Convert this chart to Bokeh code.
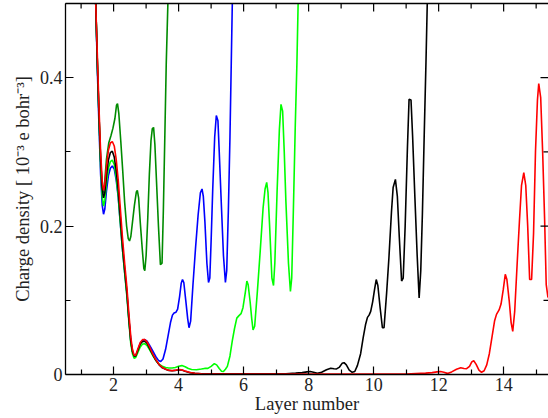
import math
from bokeh.plotting import figure
from bokeh.models import LinearAxis, FixedTicker, Range1d
from bokeh.embed import file_html
from bokeh.resources import INLINE

# ---------------- data ----------------
x_ticks = [2, 4, 6, 8, 10, 12, 14]
x_minor = [1, 3, 5, 7, 9, 11, 13, 15]
y_ticks = [0, 0.2, 0.4]
y_minor = [0.1, 0.3]
X_MIN, X_MAX = 0.52, 15.38
Y_MIN, Y_MAX = 0.0, 0.5

darkgreen_x = [1.35, 1.45, 1.5, 1.55, 1.6, 1.65, 1.69, 1.73, 1.78, 1.85, 1.92, 1.98, 2.04, 2.09, 2.12,
               2.16, 2.22, 2.28, 2.34, 2.4, 2.45, 2.49, 2.53, 2.58, 2.64, 2.7, 2.73, 2.77, 2.82, 2.88,
               2.93, 2.96, 3.0, 3.05, 3.1, 3.15, 3.19, 3.23, 3.27, 3.32, 3.38, 3.44, 3.49, 3.53, 3.58,
               3.62, 3.67, 3.72]
darkgreen_y = [0.75, 0.5, 0.42, 0.35, 0.29, 0.252, 0.245, 0.262, 0.29, 0.312, 0.322, 0.332, 0.345, 0.363,
               0.365, 0.352, 0.315, 0.275, 0.232, 0.2, 0.183, 0.18, 0.186, 0.205, 0.228, 0.246, 0.248,
               0.238, 0.205, 0.17, 0.143, 0.14, 0.16, 0.21, 0.27, 0.315, 0.331, 0.333, 0.31, 0.26, 0.2,
               0.148, 0.15, 0.22, 0.33, 0.42, 0.5, 0.75]

blue_x = [1.35, 1.45, 1.5, 1.55, 1.6, 1.65, 1.69, 1.73, 1.78, 1.84, 1.9, 1.96, 2.02, 2.08, 2.14, 2.2,
          2.27, 2.34, 2.41, 2.47, 2.53, 2.58, 2.63, 2.68, 2.75, 2.82, 2.89, 2.96, 3.03, 3.1, 3.2, 3.3,
          3.38, 3.45, 3.52, 3.6, 3.68, 3.75, 3.81, 3.86, 3.92, 3.97, 4.03, 4.08, 4.12, 4.16, 4.22,
          4.28, 4.32, 4.37, 4.44, 4.52, 4.6, 4.67, 4.72, 4.76, 4.81, 4.87, 4.92, 4.96, 5.0, 5.05,
          5.11, 5.16, 5.21, 5.25, 5.3, 5.38, 5.44, 5.48, 5.53, 5.58, 5.62, 5.66, 5.72]
blue_y = [0.75, 0.5, 0.41, 0.335, 0.27, 0.228, 0.216, 0.223, 0.247, 0.268, 0.278, 0.281, 0.277, 0.262,
          0.24, 0.207, 0.17, 0.138, 0.107, 0.074, 0.044, 0.031, 0.025, 0.025, 0.033, 0.042, 0.046,
          0.047, 0.045, 0.04, 0.032, 0.024, 0.019, 0.0176, 0.021, 0.034, 0.053, 0.07, 0.08, 0.083,
          0.084, 0.088, 0.105, 0.123, 0.128, 0.124, 0.1, 0.075, 0.063, 0.072, 0.12, 0.17, 0.215,
          0.245, 0.25, 0.24, 0.205, 0.15, 0.124, 0.13, 0.18, 0.25, 0.32, 0.349, 0.342, 0.3, 0.245,
          0.16, 0.124, 0.14, 0.22, 0.32, 0.42, 0.52, 0.75]

green_x = [1.35, 1.45, 1.5, 1.55, 1.6, 1.65, 1.69, 1.73, 1.78, 1.84, 1.9, 1.96, 2.02, 2.08, 2.14, 2.2,
           2.27, 2.34, 2.41, 2.47, 2.53, 2.58, 2.63, 2.68, 2.75, 2.82, 2.89, 2.96, 3.03, 3.1, 3.2,
           3.3, 3.4, 3.5, 3.6, 3.7, 3.8, 3.9, 4.0, 4.1, 4.2, 4.3, 4.4, 4.55, 4.7, 4.8, 4.9, 5.0,
           5.1, 5.17, 5.25, 5.32, 5.38, 5.44, 5.5, 5.58, 5.65, 5.72, 5.79, 5.85, 5.92, 5.98, 6.05,
           6.1, 6.14, 6.2, 6.25, 6.29, 6.34, 6.42, 6.51, 6.6, 6.66, 6.71, 6.75, 6.8, 6.87, 6.92,
           6.96, 7.03, 7.1, 7.15, 7.2, 7.25, 7.3, 7.38, 7.44, 7.48, 7.53, 7.59, 7.64, 7.7, 7.75]
green_y = [0.75, 0.5, 0.42, 0.345, 0.28, 0.24, 0.227, 0.235, 0.258, 0.278, 0.287, 0.289, 0.283, 0.266,
           0.242, 0.208, 0.17, 0.137, 0.105, 0.071, 0.041, 0.028, 0.022, 0.023, 0.03, 0.037, 0.041,
           0.0415, 0.039, 0.034, 0.026, 0.019, 0.014, 0.011, 0.0095, 0.0088, 0.0088, 0.0095, 0.011,
           0.012, 0.0105, 0.008, 0.0068, 0.0065, 0.0075, 0.0082, 0.0082, 0.011, 0.0145, 0.013, 0.008,
           0.0045, 0.004, 0.007, 0.011, 0.025, 0.045, 0.062, 0.076, 0.079, 0.082, 0.09, 0.11, 0.126,
           0.121, 0.098, 0.075, 0.06, 0.065, 0.11, 0.166, 0.225, 0.25, 0.259, 0.245, 0.2, 0.13, 0.12,
           0.15, 0.247, 0.33, 0.364, 0.355, 0.3, 0.234, 0.15, 0.112, 0.13, 0.22, 0.337, 0.42, 0.55,
           0.75]

black_x = [1.35, 1.45, 1.5, 1.55, 1.6, 1.65, 1.69, 1.73, 1.78, 1.84, 1.9, 1.96, 2.02, 2.08, 2.14, 2.2,
           2.27, 2.34, 2.41, 2.47, 2.53, 2.58, 2.63, 2.68, 2.75, 2.82, 2.89, 2.96, 3.03, 3.1, 3.2,
           3.3, 3.4, 3.5, 3.6, 3.7, 3.8, 3.9, 4.0, 4.1, 4.2, 4.35, 4.5, 4.7, 5.5, 6.5, 7.3, 7.6,
           7.8, 7.95, 8.05, 8.15, 8.27, 8.4, 8.55, 8.68, 8.78, 8.86, 8.95, 9.03, 9.09, 9.16, 9.25,
           9.34, 9.42, 9.5, 9.6, 9.68, 9.75, 9.81, 9.86, 9.91, 9.97, 10.03, 10.08, 10.13, 10.2,
           10.27, 10.32, 10.4, 10.47, 10.55, 10.6, 10.67, 10.73, 10.79, 10.86, 10.91, 10.97, 11.04,
           11.09, 11.15, 11.2, 11.27, 11.34, 11.4, 11.45, 11.5, 11.56, 11.61, 11.66, 11.72]
black_y = [0.75, 0.5, 0.42, 0.35, 0.29, 0.25, 0.238, 0.245, 0.268, 0.289, 0.299, 0.301, 0.293, 0.275,
           0.25, 0.215, 0.175, 0.142, 0.11, 0.075, 0.045, 0.031, 0.025, 0.025, 0.033, 0.041, 0.0445,
           0.0448, 0.042, 0.036, 0.027, 0.019, 0.013, 0.009, 0.007, 0.0055, 0.005, 0.0055, 0.0065,
           0.006, 0.0045, 0.0025, 0.0015, 0.001, 0.0008, 0.0008, 0.001, 0.0018, 0.0025, 0.0035,
           0.004, 0.003, 0.0015, 0.003, 0.0065, 0.0085, 0.0078, 0.0075, 0.01, 0.015, 0.016, 0.013,
           0.006, 0.003, 0.004, 0.012, 0.028, 0.05, 0.067, 0.077, 0.08, 0.085, 0.098, 0.115, 0.128,
           0.12, 0.09, 0.063, 0.063, 0.11, 0.157, 0.22, 0.252, 0.263, 0.24, 0.185, 0.126, 0.13, 0.2,
           0.306, 0.371, 0.37, 0.32, 0.238, 0.16, 0.103, 0.14, 0.216, 0.33, 0.42, 0.52, 0.75]

red_x = [1.35, 1.45, 1.5, 1.55, 1.6, 1.65, 1.69, 1.73, 1.78, 1.84, 1.9, 1.96, 2.02, 2.08, 2.14, 2.2,
         2.27, 2.34, 2.41, 2.47, 2.53, 2.58, 2.63, 2.68, 2.75, 2.82, 2.89, 2.96, 3.03, 3.1, 3.2, 3.3,
         3.4, 3.5, 3.6, 3.7, 3.8, 3.9, 4.0, 4.1, 4.2, 4.35, 4.5, 4.7, 5.5, 7.0, 9.0, 11.0, 11.6,
         11.8, 11.95, 12.06, 12.16, 12.27, 12.4, 12.55, 12.68, 12.78, 12.86, 12.95, 13.02, 13.08,
         13.15, 13.24, 13.32, 13.4, 13.48, 13.56, 13.64, 13.72, 13.78, 13.86, 13.92, 13.99, 14.05,
         14.1, 14.17, 14.23, 14.28, 14.34, 14.42, 14.49, 14.55, 14.62, 14.68, 14.74, 14.8, 14.86,
         14.92, 14.98, 15.04, 15.08, 15.14, 15.2, 15.26, 15.31, 15.36, 15.42, 15.5]
red_y = [0.75, 0.5, 0.43, 0.36, 0.3, 0.26, 0.248, 0.256, 0.28, 0.302, 0.312, 0.314, 0.308, 0.29, 0.263,
         0.228, 0.186, 0.15, 0.117, 0.082, 0.05, 0.034, 0.026, 0.026, 0.035, 0.043, 0.047, 0.047,
         0.044, 0.038, 0.028, 0.02, 0.0135, 0.0095, 0.0072, 0.0058, 0.0052, 0.0058, 0.0068, 0.0062,
         0.0047, 0.0026, 0.0016, 0.001, 0.0007, 0.0006, 0.0006, 0.0007, 0.0018, 0.0025, 0.0035,
         0.004, 0.003, 0.0015, 0.0035, 0.007, 0.009, 0.008, 0.0078, 0.011, 0.017, 0.0185, 0.014,
         0.006, 0.003, 0.005, 0.013, 0.028, 0.05, 0.072, 0.081, 0.087, 0.095, 0.115, 0.135, 0.128,
         0.1, 0.07, 0.058, 0.085, 0.153, 0.21, 0.255, 0.272, 0.255, 0.2, 0.128, 0.128, 0.19, 0.301,
         0.37, 0.392, 0.373, 0.3, 0.21, 0.121, 0.105, 0.1, 0.11]

series = [
    (darkgreen_x, darkgreen_y, "#008b00"),
    (blue_x, blue_y, "#0000ff"),
    (green_x, green_y, "#00ff00"),
    (black_x, black_y, "#000000"),
    (red_x, red_y, "#ff0000"),
]

FONT = "Liberation Serif"
TXT = "#222222"

p = figure(width=548, height=418, output_backend="svg", toolbar_location=None,
           x_range=Range1d(X_MIN, X_MAX), y_range=Range1d(Y_MIN, Y_MAX),
           x_axis_label="Layer number",
           y_axis_label="Charge density [ 10\u207b\u00b3 e bohr\u207b\u00b3]",
           min_border_left=65, min_border_right=0, min_border_top=3, min_border_bottom=44)
p.outline_line_color = None
p.grid.visible = False
p.background_fill_color = "white"
p.border_fill_color = "white"

for xs, ys, c in series:
    p.line(xs, ys, line_color=c, line_width=1.6)

def style(ax, ticks, minor):
    ax.ticker = FixedTicker(ticks=ticks, minor_ticks=minor)
    ax.major_tick_in = 8
    ax.major_tick_out = 0
    ax.minor_tick_in = 5
    ax.minor_tick_out = 0
    ax.axis_line_color = "black"
    ax.axis_line_width = 1.3
    ax.major_tick_line_color = "black"
    ax.minor_tick_line_color = "black"
    ax.major_tick_line_width = 1.2
    ax.minor_tick_line_width = 1.2
    ax.major_label_text_font = FONT
    ax.major_label_text_font_size = "18px"
    ax.major_label_text_color = TXT
    ax.axis_label_text_font = FONT
    ax.axis_label_text_font_size = "18.5px"
    ax.axis_label_text_font_style = "normal"
    ax.axis_label_text_color = TXT

xa = p.xaxis[0]
style(xa, x_ticks, x_minor)
xa.major_label_standoff = 3
xa.axis_label_standoff = 0

ya = p.yaxis[0]
style(ya, y_ticks, y_minor + [Y_MAX])
ya.major_label_overrides = {0: "0", 0.2: "0.2", 0.4: "0.4"}
ya.major_label_standoff = 3
ya.axis_label_standoff = 4

# top frame line (no ticks/labels on the axis itself)
top = LinearAxis(ticker=FixedTicker(ticks=[], minor_ticks=[]))
top.axis_line_color = "black"
top.axis_line_width = 1.3
top.major_tick_line_color = None
top.minor_tick_line_color = None
p.add_layout(top, "above")

# mirrored inward ticks on top and right edges
tick_style = dict(line_color="black", line_width=1.2, length_units="screen")
p.ray(x=x_ticks, y=[Y_MAX] * len(x_ticks), length=8, angle=-math.pi / 2, **tick_style)
p.ray(x=x_minor, y=[Y_MAX] * len(x_minor), length=5, angle=-math.pi / 2, **tick_style)
p.ray(x=[X_MAX] * len(y_ticks), y=y_ticks, length=8, angle=math.pi, **tick_style)
p.ray(x=[X_MAX] * len(y_minor), y=y_minor, length=5, angle=math.pi, **tick_style)

open("out.html", "w").write(file_html(p, INLINE))
